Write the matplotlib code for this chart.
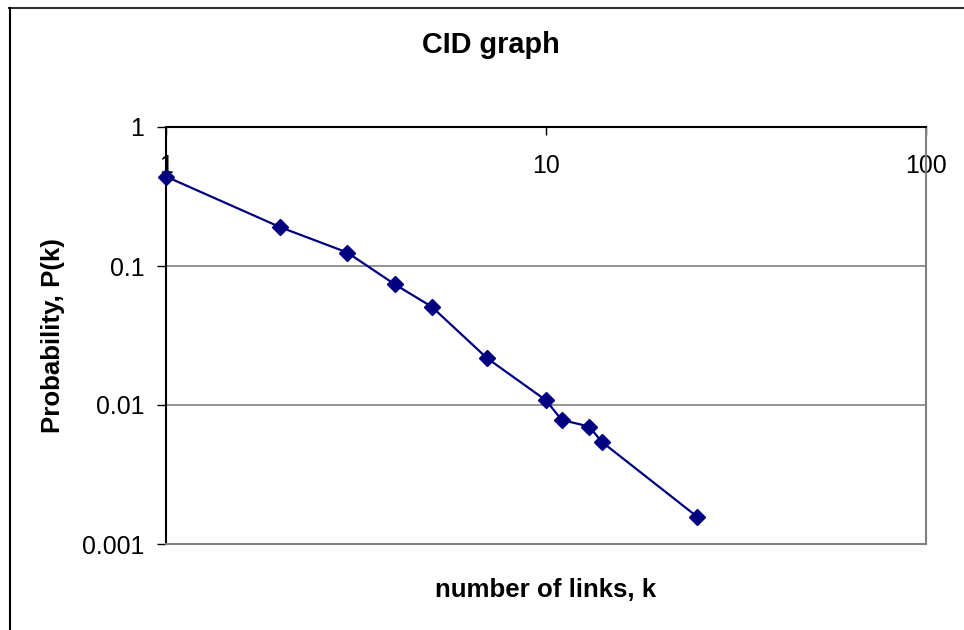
import matplotlib
matplotlib.use("Agg")
import matplotlib.pyplot as plt
from matplotlib.lines import Line2D

plt.rcParams['font.family'] = ['Liberation Sans', 'DejaVu Sans']

# Data
k_values = [1, 2, 3, 4, 5, 7, 10, 11, 13, 14, 25]
p_values = [0.44, 0.19, 0.125, 0.0738, 0.051, 0.0217, 0.0108, 0.0078, 0.0070, 0.00545, 0.00157]

x_ticks = [1, 10, 100]
x_tick_labels = ["1", "10", "100"]
y_ticks = [0.001, 0.01, 0.1, 1]
y_tick_labels = ["0.001", "0.01", "0.1", "1"]

title = "CID graph"
x_label = "number of links, k"
y_label = "Probability, P(k)"

W, H = 964, 630
fig = plt.figure(figsize=(W / 100, H / 100), dpi=100)
fig.patch.set_facecolor("white")

left, right, top, bottom = 166, 926, 127, 544
ax = fig.add_axes([left / W, 1 - bottom / H, (right - left) / W, (bottom - top) / H])

ax.set_xscale("log")
ax.set_yscale("log")
ax.set_xlim(1, 100)
ax.set_ylim(0.001, 1)

ax.plot(k_values, p_values, color="#000080", lw=1.6, marker="D", ms=7.8,
        mfc="#000080", mec="#000080", mew=1, zorder=5, clip_on=False)

# Grid
ax.yaxis.grid(True, which="major", color="#808080", lw=1.2)
ax.xaxis.grid(False)
ax.set_axisbelow(True)

# Spines
ax.spines["top"].set_color("black")
ax.spines["left"].set_color("black")
ax.spines["right"].set_color("#808080")
ax.spines["bottom"].set_color("#808080")
for s in ax.spines.values():
    s.set_linewidth(1.5)

# Y ticks
ax.set_yticks(y_ticks)
ax.set_yticklabels(y_tick_labels)
ax.yaxis.set_minor_locator(matplotlib.ticker.NullLocator())
ax.tick_params(axis="y", which="major", direction="out", length=6.5, width=1,
               color="black", labelsize=17.9, pad=9)

# X ticks on top, labels inside plot
ax.set_xticks(x_ticks)
ax.set_xticklabels(x_tick_labels)
ax.xaxis.set_minor_locator(matplotlib.ticker.NullLocator())
ax.tick_params(axis="x", which="major", top=True, bottom=False, labeltop=True,
               labelbottom=False, direction="in", length=5.5, width=1,
               color="black", labelsize=17.9, pad=-28)
for lbl in ax.get_xticklabels():
    lbl.set_va("center")

# Labels and title
fig.text(490.7 / W, 1 - 45 / H, title, ha="center", va="center",
         fontsize=20.8, fontweight="bold")
fig.text(546 / W, 1 - 590 / H, x_label, ha="center", va="center",
         fontsize=18.6, fontweight="bold")
fig.text(53 / W, 1 - 335.5 / H, y_label, ha="center", va="center",
         rotation=90, fontsize=18.6, fontweight="bold")

# Chart border (top and left visible)
fig.add_artist(Line2D([9 / W, 1.0], [1 - 7.5 / H, 1 - 7.5 / H],
                      transform=fig.transFigure, color="#303030", lw=1.5))
fig.add_artist(Line2D([9.5 / W, 9.5 / W], [0.0, 1 - 7.5 / H],
                      transform=fig.transFigure, color="black", lw=1.5))

fig.savefig("out.png", dpi=100)
